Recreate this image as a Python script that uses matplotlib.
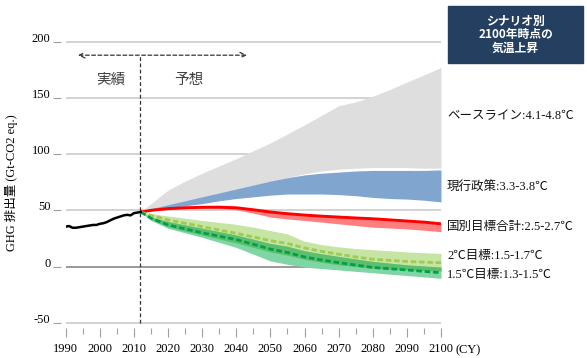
import numpy as np
import matplotlib
matplotlib.use("Agg")
import matplotlib.pyplot as plt
from matplotlib.patches import Rectangle
from matplotlib.ticker import MultipleLocator

plt.rcParams["axes.unicode_minus"] = False

# ---------------- data ----------------
hist_years = [1990, 1991, 1992, 1993, 1994, 1995, 1996, 1997, 1998, 1999, 2000,
              2001, 2002, 2003, 2004, 2005, 2006, 2007, 2008, 2009, 2010, 2011, 2012]
hist_vals = [35.5, 36.0, 34.5, 34.5, 35.0, 35.5, 36.0, 36.5, 37.0, 37.0, 38.0,
             38.5, 39.5, 41.0, 42.5, 43.5, 44.5, 45.5, 46.0, 45.5, 47.5, 48.0, 48.5]

proj_years = [2012, 2015, 2020, 2025, 2030, 2035, 2040, 2045, 2050, 2055,
              2060, 2065, 2070, 2075, 2080, 2085, 2090, 2095, 2100]

baseline_hi = [49.0, 56.0, 68.0, 76.0, 83.0, 89.5, 96.0, 103.0, 110.0, 118.0,
               126.0, 134.5, 143.0, 146.5, 151.5, 157.5, 164.0, 170.5, 177.0]
baseline_lo = [48.5, 51.0, 54.5, 58.0, 61.5, 65.0, 68.5, 72.0, 75.5, 79.0,
               82.5, 85.0, 86.5, 87.5, 88.0, 88.0, 88.0, 87.5, 87.5]

policy_hi = [49.0, 51.5, 55.0, 58.5, 62.0, 65.5, 69.0, 72.5, 76.0, 79.0,
             81.5, 83.0, 84.0, 85.0, 85.5, 85.5, 85.5, 85.5, 86.0]
policy_lo = [48.0, 49.5, 52.0, 54.0, 56.0, 58.5, 60.5, 62.0, 63.5, 64.5,
             64.5, 64.5, 64.0, 63.0, 61.5, 60.5, 60.0, 59.0, 57.5]

ndc_line = [48.5, 50.0, 51.5, 52.3, 52.7, 52.8, 52.3, 50.5, 48.5, 47.0,
            45.8, 44.8, 44.0, 43.2, 42.5, 41.5, 40.5, 39.5, 38.0]
ndc_lo = [48.5, 49.8, 51.0, 51.8, 52.0, 51.8, 50.5, 47.5, 44.0, 42.3,
          41.0, 39.5, 38.0, 36.5, 35.0, 34.3, 33.5, 32.3, 31.0]

c2_hi = [48.5, 47.0, 45.0, 43.0, 41.0, 39.3, 37.5, 35.0, 32.0, 29.0,
         22.5, 19.5, 17.5, 16.0, 15.0, 14.0, 13.0, 12.3, 11.7]
c2_mid = [48.5, 45.5, 41.5, 38.5, 35.5, 32.5, 29.5, 26.3, 23.0, 20.5,
          16.5, 13.5, 11.0, 8.5, 6.5, 5.5, 4.5, 3.9, 3.4]
c2_lo = [48.5, 42.0, 35.5, 31.5, 28.0, 24.5, 21.0, 17.0, 13.0, 10.0,
         6.5, 3.8, 1.5, 0.0, -1.5, -2.3, -3.0, -3.5, -4.0]

c15_hi = [48.5, 44.0, 40.0, 37.0, 34.0, 31.0, 28.0, 24.3, 20.5, 18.0,
          14.0, 11.3, 9.0, 6.7, 4.5, 3.0, 1.5, 0.5, -0.5]
c15_mid = [48.5, 43.0, 37.0, 33.5, 30.0, 27.0, 24.0, 19.8, 15.5, 12.5,
           8.5, 5.8, 3.5, 1.3, -0.8, -2.0, -3.0, -4.3, -5.5]
c15_lo = [48.5, 41.0, 34.0, 30.0, 26.0, 21.5, 17.0, 11.0, 5.0, 2.0,
          -0.5, -1.8, -3.0, -4.3, -5.5, -6.8, -8.0, -9.2, -10.5]

scenario_labels = ["ベースライン:4.1-4.8℃", "現行政策:3.3-3.8℃", "国別目標合計:2.5-2.7℃",
                   "2℃目標:1.5-1.7℃", "1.5℃目標:1.3-1.5℃"]
title_text = "シナリオ別\n2100年時点の\n気温上昇"
xticks = list(range(1990, 2101, 10))
yticks = [-50, 0, 50, 100, 150, 200]
divider_year = 2011.7

# ---------------- figure ----------------
W, H = 587, 358
fig = plt.figure(figsize=(W / 100, H / 100), dpi=100)
ax = fig.add_axes([65.7 / W, 1 - 325.0 / H, (441 - 65.7) / W, (325.0 - 39.45) / H])

serif = ["Liberation Serif", "Noto Sans CJK JP"]
gothic = ["Noto Sans CJK JP", "DejaVu Sans"]

ax.set_xlim(1990, 2100)
ax.set_ylim(-52, 202)

# gridlines
for v in yticks:
    ax.axhline(v, color="#7f7f7f" if v == 0 else "#c6c6c6", lw=1.1, zorder=0.5)

py = np.array(proj_years, dtype=float)
ax.fill_between(py, baseline_lo, baseline_hi, color="#dedede", lw=0, zorder=1)
ax.fill_between(py, policy_lo, policy_hi, color="#80a6d0", lw=0, zorder=2)
ax.fill_between(py, ndc_lo, ndc_line, color="#ff7f7f", lw=0, zorder=3)
ax.plot(py, ndc_line, color="#ff0000", lw=2.1, zorder=4, solid_capstyle="butt")

ax.fill_between(py, c2_lo, c2_hi, color="#c6e4a3", lw=0, zorder=3)
ax.fill_between(py, c15_lo, c15_hi, color="#7fd5a4", lw=0, zorder=3.1)
ov_lo = np.maximum(c2_lo, c15_lo)
ov_hi = np.minimum(c2_hi, c15_hi)
ax.fill_between(py, ov_lo, ov_hi, where=ov_hi > ov_lo, color="#5dbe6e", lw=0, zorder=3.2)
ax.plot(py, c2_mid, color="#9dcc4e", lw=2.0, ls=(0, (2.0, 1.0)), zorder=4)
ax.plot(py, c15_mid, color="#00a048", lw=2.0, ls=(0, (2.0, 1.0)), zorder=4)

ax.plot(hist_years, hist_vals, color="black", lw=1.8, zorder=5)

# divider and period arrow
ax.plot([divider_year, divider_year], [-50, 188], color="#333333", lw=0.9,
        ls=(0, (3, 2)), zorder=6, clip_on=False)
ax.annotate("", xy=(1993.6, 188), xytext=(2043.1, 188),
            arrowprops=dict(arrowstyle="<->", color="#333333", lw=0.9,
                            ls=(0, (3, 2)), shrinkA=0, shrinkB=0,
                            mutation_scale=10))
ax.text(2003.3, 166, "実績", family=gothic, fontsize=10.5, color="#404040",
        ha="center", va="center")
ax.text(2026.2, 166, "予想", family=gothic, fontsize=10.5, color="#404040",
        ha="center", va="center")

# axes styling
for s in ax.spines.values():
    s.set_visible(False)
ax.spines["bottom"].set_position(("outward", 2.2))
ax.spines["left"].set_position(("outward", 3.4))
ax.set_xticks(xticks)
ax.xaxis.set_minor_locator(MultipleLocator(5))
ax.set_yticks(yticks)
ax.tick_params(axis="x", which="major", length=6.5, width=0.8, color="#a0a0a0",
               pad=4, labelsize=9, direction="out")
ax.tick_params(axis="x", which="minor", length=4.0, width=0.8, color="#a0a0a0",
               direction="out")
ax.tick_params(axis="y", which="major", length=5.5, width=0.8, color="#a0a0a0",
               pad=2, labelsize=9)
for lab in ax.get_xticklabels() + ax.get_yticklabels():
    lab.set_family(serif)
for lab in ax.get_yticklabels():
    lab.set_va("baseline")

ax.set_ylabel("GHG 排出量 (Gt-CO2 eq.)", family=serif, fontsize=9)
ax.yaxis.set_label_coords(-0.127, 0.5)

fig.text(455 / W, 1 - 350 / H, "(CY)", family=serif, fontsize=9, va="center", ha="left")

# scenario labels
label_y = [116, 187.5, 227, 256.5, 275]
for t, yy in zip(scenario_labels, label_y):
    fig.text(447 / W, 1 - yy / H, t, family=serif, fontsize=9, va="center",
             ha="left", color="#111111")

# title box
fig.patches.append(Rectangle((448 / W, 1 - 63 / H), (583 - 448) / W, (63 - 6) / H,
                             transform=fig.transFigure, color="#243f60", zorder=0))
fig.text(515.5 / W, 1 - 34.5 / H, title_text, family=gothic, fontsize=8.5,
         fontweight="bold", color="white", ha="center", va="center",
         linespacing=1.05)

fig.savefig("out.png", dpi=100)
